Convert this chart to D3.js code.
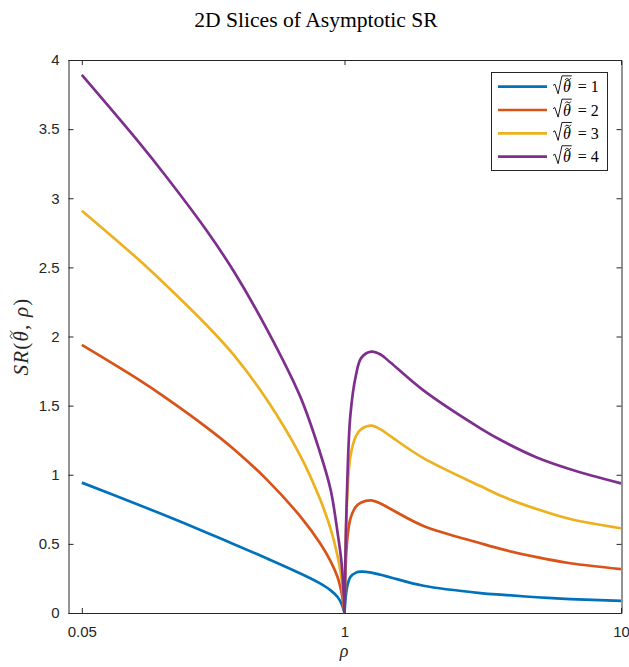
<!DOCTYPE html>
<html><head><meta charset="utf-8">
<script src="https://cdn.jsdelivr.net/npm/d3@7"></script>
<style>body{margin:0;background:#fff}</style>
</head><body>
<svg id="c" width="629" height="667"></svg>
<script>
const rho = [0.05,0.25,0.35,0.5,0.6,0.72,0.84,0.91,0.95,0.975,0.99,1,1.02,1.05,1.1,1.15,1.25,1.35,1.47,1.93,3.1,3.76,4.96,6.55,10];
const sr1 = [0.943,0.787,0.707,0.583,0.498,0.394,0.286,0.216,0.164,0.116,0.064,0,0.18,0.26,0.292,0.299,0.292,0.277,0.257,0.197,0.144,0.131,0.114,0.101,0.087];
const sr2 = [1.939,1.695,1.562,1.345,1.185,0.963,0.699,0.51,0.374,0.259,0.14,0,0.5,0.68,0.77,0.80,0.815,0.792,0.752,0.63,0.505,0.458,0.404,0.36,0.318];
const sr3 = [2.910,2.566,2.38,2.085,1.865,1.541,1.139,0.831,0.607,0.41,0.24,0,0.78,1.13,1.28,1.33,1.355,1.328,1.277,1.12,0.918,0.84,0.752,0.68,0.613];
const sr4 = [3.892,3.42,3.17,2.77,2.47,2.05,1.565,1.17,0.89,0.58,0.35,0,0.85,1.43,1.72,1.845,1.89,1.87,1.81,1.61,1.336,1.24,1.125,1.04,0.938];
const seriesNames = ["1","2","3","4"];
const colors = ["#0072BD","#D95319","#EDB120","#7E2F8E"];
const yTicks = [0,0.5,1,1.5,2,2.5,3,3.5,4];
const xTickRho = [0.05,1,10];
const xTickLabels = ["0.05","1","10"];

const L=68,R=621,T=60,B=613;
// axis coordinate: linear in rho below 1, linear in log10(rho) above 1
const toT = r => r<=1 ? r : 1+Math.log10(r);
const xs = d3.scaleLinear().domain([0,2]).range([L,R]);
const x = r => xs(toT(r));
const y = d3.scaleLinear().domain([0,4]).range([B,T]);

const svg = d3.select("#c");
const axisColor="#262626";
const sans="'Liberation Sans', Arial, sans-serif";
const serif="'Liberation Serif', 'Times New Roman', serif";

// title
svg.append("text").attr("x",316).attr("y",27).attr("text-anchor","middle")
  .attr("font-family",serif).attr("font-size",21.6).attr("fill","#000").text("2D Slices of Asymptotic SR");

// axes
const gL = svg.append("g").attr("transform",`translate(${L+0.5},0)`)
  .call(d3.axisLeft(y).tickValues(yTicks).tickSizeInner(-5).tickSizeOuter(0).tickPadding(9).tickFormat(d=>d3.format("")(d)));
const gRt = svg.append("g").attr("transform",`translate(${R+0.5},0)`)
  .call(d3.axisRight(y).tickValues(yTicks).tickSizeInner(-5).tickSizeOuter(0).tickFormat(""));
const gB = svg.append("g").attr("transform",`translate(0,${B})`)
  .call(d3.axisBottom(xs).tickValues(xTickRho.map(toT)).tickSizeInner(-5).tickSizeOuter(0).tickPadding(13).tickFormat((d,i)=>xTickLabels[i]));
const gT = svg.append("g").attr("transform",`translate(0,${T})`)
  .call(d3.axisTop(xs).tickValues(xTickRho.map(toT)).tickSizeInner(-5).tickSizeOuter(0).tickFormat(""));
[gL,gRt,gB,gT].forEach(g=>{
  g.selectAll("path.domain").attr("stroke",axisColor);
  g.selectAll(".tick line").attr("stroke",axisColor);
  g.selectAll("text").attr("font-family",sans).attr("font-size",15).attr("fill",axisColor);
});

// curves: left branch (rho<=1) and right branch (rho>=1) drawn separately to keep the cusp
const data = [sr1,sr2,sr3,sr4];
const line = d3.line().x(d=>x(d[0])).y(d=>y(d[1])).curve(d3.curveCatmullRom.alpha(0.5));
data.forEach((s,i)=>{
  const pts = rho.map((r,j)=>[r,s[j]]);
  const left = pts.filter(p=>p[0]<=1), right = pts.filter(p=>p[0]>=1);
  [left,right].forEach(seg=>{
    svg.append("path").datum(seg)
      .attr("d",line).attr("fill","none").attr("stroke",colors[i]).attr("stroke-width",2.7)
      .attr("stroke-linejoin","round");
  });
});

// tilde accent drawn as a small wave path
function tildePath(parent, cx, cy, w, a, color){
  const x0=cx-w/2;
  parent.append("path")
    .attr("d",`M${x0},${cy+a} Q${x0+w/4},${cy-2*a} ${x0+w/2},${cy} T${x0+w},${cy-a}`)
    .attr("fill","none").attr("stroke",color).attr("stroke-width",0.9);
}

// axis labels
svg.append("text").attr("x",344).attr("y",657).attr("text-anchor","middle")
  .attr("font-family",serif).attr("font-size",18).attr("font-style","italic").attr("fill",axisColor).text("ρ");
const ylg = svg.append("g").attr("transform",`translate(28,${(T+B)/2}) rotate(-90)`);
const yfs = 21;
const yl = ylg.append("text").attr("x",0).attr("y",0).attr("text-anchor","middle")
  .attr("font-family",serif).attr("font-size",yfs).attr("letter-spacing",1.2).attr("fill",axisColor);
yl.append("tspan").attr("font-style","italic").text("SR");
yl.append("tspan").text("(");
yl.append("tspan").attr("font-style","italic").text("θ");
yl.append("tspan").text(", ");
yl.append("tspan").attr("font-style","italic").text("ρ");
yl.append("tspan").text(")");
{
  const e = yl.node().getExtentOfChar(3);
  tildePath(ylg, e.x+e.width/2+1, -yfs*0.8, yfs*0.36, yfs*0.06, axisColor);
}

// legend
const lg = svg.append("g");
lg.append("rect").attr("x",491.5).attr("y",72.5).attr("width",116).attr("height",98)
  .attr("fill","#fff").attr("stroke",axisColor).attr("stroke-width",1);
seriesNames.forEach((n,i)=>{
  const yy = 86.7 + i*23.3;
  const fs = 16;
  const base = yy+5.5;
  const x0 = 553;
  lg.append("line").attr("x1",498).attr("x2",547).attr("y1",yy).attr("y2",yy)
    .attr("stroke",colors[i]).attr("stroke-width",2.7);
  const t = lg.append("text").attr("x",x0+0.62*fs).attr("y",base).attr("font-family",serif).attr("font-size",fs).attr("fill","#000");
  t.append("tspan").attr("font-style","italic").text("θ");
  t.append("tspan").attr("dx",3).text(" = ");
  t.append("tspan").text(n);
  const e = t.node().getExtentOfChar(0);
  const thEnd = e.x+e.width+1;
  // radical sign
  lg.append("path")
    .attr("d",`M${x0},${base-0.42*fs} L${x0+0.12*fs},${base-0.5*fs} L${x0+0.32*fs},${base+0.1*fs} L${x0+0.56*fs},${base-1.02*fs} L${thEnd},${base-1.02*fs}`)
    .attr("fill","none").attr("stroke","#000").attr("stroke-width",0.9).attr("stroke-linejoin","miter");
  tildePath(lg, e.x+e.width/2+1.2, base-0.82*fs, fs*0.36, fs*0.055, "#000");
});
</script>
</body></html>
